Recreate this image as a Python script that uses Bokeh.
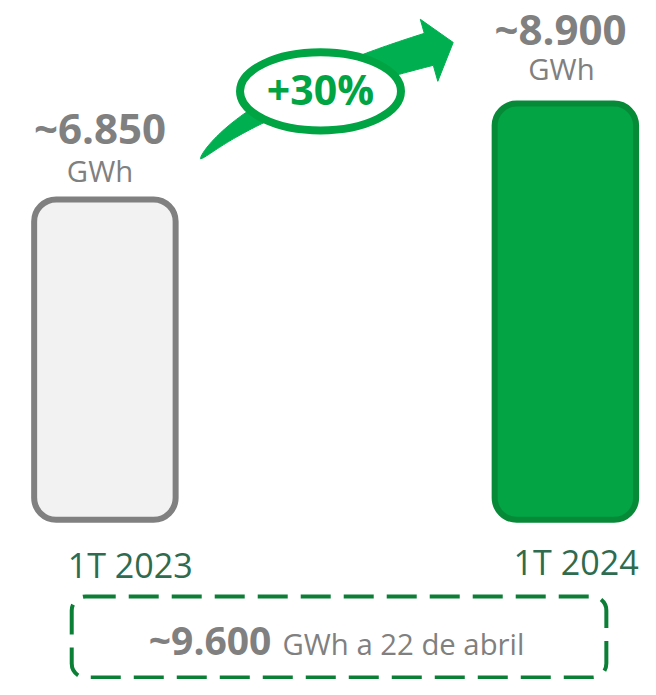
import numpy as np
from bokeh.plotting import figure
from bokeh.models import Range1d, BoxAnnotation, ColumnDataSource
from bokeh.core.properties import value
from bokeh.embed import file_html
from bokeh.resources import INLINE

# ---- data ----
categories = ["1T 2023", "1T 2024"]
values = [6850, 8900]
value_labels = ["~6.850", "~8.900"]
unit_label = "GWh"
growth_label = "+30%"
total_value_label = "~9.600"
total_text = "GWh a 22 de abril"

# ---- layout (reference pixel frame 656 x 695, scaled onto the figure) ----
W, H = 640, 679
REF_W, REF_H = 656, 695
SX = W / REF_W
SY = H / REF_H
PX_PER_GWH = 426 / 8900.0      # reference px per GWh
BASE_Y = 531.5                 # reference y of the zero line
FONT = value("Open Sans")


def vy(py):
    return ((BASE_Y - np.asarray(py, dtype=float)) / PX_PER_GWH).tolist()


def fs(px):
    return "%.1fpx" % (px * SX)


def ty(baseline, size):
    # text glyph baseline correction (in reference px)
    return vy(np.asarray(baseline, dtype=float) - 0.42 * size)


p = figure(width=W, height=H, x_range=Range1d(0, REF_W), y_range=Range1d(vy(REF_H), vy(0)),
           output_backend="svg", toolbar_location=None, min_border=0,
           x_axis_location=None, y_axis_location=None)
p.grid.visible = False
p.outline_line_color = None
p.background_fill_color = "white"
p.border_fill_color = "white"

# ---- arrow (decoration) ----
P0 = np.array([205.0, 162.0]); P1 = np.array([262.0, 100.0]); P2 = np.array([439.0, 50.0])
u = np.linspace(0, 1, 80)
C = ((1 - u) ** 2)[:, None] * P0 + (2 * u * (1 - u))[:, None] * P1 + (u ** 2)[:, None] * P2
D = 2 * (1 - u)[:, None] * (P1 - P0) + 2 * u[:, None] * (P2 - P1)
T = D / np.linalg.norm(D, axis=1)[:, None]
N = np.stack([-T[:, 1], T[:, 0]], axis=1)
hw = 17.0 * u ** 0.6
upper = C - N * hw[:, None]
lower = C + N * hw[:, None]
Te, Ne = T[-1], N[-1]
barb_top = P2 - 32 * Ne
barb_bot = P2 + 34 * Ne
tip = P2 + 26 * Te
poly = np.vstack([upper, barb_top, tip, barb_bot, lower[::-1]])
p.patch(x=poly[:, 0].tolist(), y=vy(poly[:, 1]), fill_color="#00b050", line_color="#00b050", line_width=1)

# ellipse with growth label
p.ellipse(x=[328], y=vy([93]), width=165 * SX, height=80 * SY, width_units="screen",
          height_units="screen", fill_color="white", line_color="#00a443", line_width=8)
p.text(x=[328], y=ty([108], 42), text=[growth_label], text_font=FONT, text_font_size=fs(42),
       text_font_style="bold", text_color="#00a443", text_align="center", text_baseline="alphabetic")

# ---- bars ----
src = ColumnDataSource(dict(x=[107, 579], top=values, cat=categories,
                            fill=["#f2f2f2", "#02a444"], line=["#808080", "#078a38"]))
p.vbar(x="x", top="top", bottom=0, width=145, source=src, fill_color="fill", line_color="line",
       line_width=6, border_radius=22)

# value labels
p.text(x=[102, 574], y=ty([148, 47], 43), text=value_labels, text_font=FONT, text_font_size=fs(43),
       text_font_style="bold", text_color="#808080", text_align="center", text_baseline="alphabetic")
p.text(x=[102, 575], y=ty([187, 83], 30), text=[unit_label, unit_label], text_font=FONT,
       text_font_size=fs(30), text_color="#808080", text_align="center", text_baseline="alphabetic")

# category labels
p.text(x=[133, 590], y=ty([592, 589], 35), text=categories, text_font=FONT, text_font_size=fs(35),
       text_color="#2e6b4f", text_align="center", text_baseline="alphabetic")

# ---- dashed box ----
box = BoxAnnotation(left=73, right=621, top=vy(610), bottom=vy(693), fill_alpha=0,
                    line_color="#0b7f36", line_alpha=1.0, line_width=4, line_dash="30 13",
                    border_radius=14)
p.add_layout(box)
p.text(x=[152], y=ty([671], 40), text=[total_value_label], text_font=FONT, text_font_size=fs(40),
       text_font_style="bold", text_color="#808080", text_align="left", text_baseline="alphabetic")
p.text(x=[289], y=ty([671], 30), text=[total_text], text_font=FONT, text_font_size=fs(30),
       text_color="#808080", text_align="left", text_baseline="alphabetic")

open("out.html", "w").write(file_html(p, INLINE))
